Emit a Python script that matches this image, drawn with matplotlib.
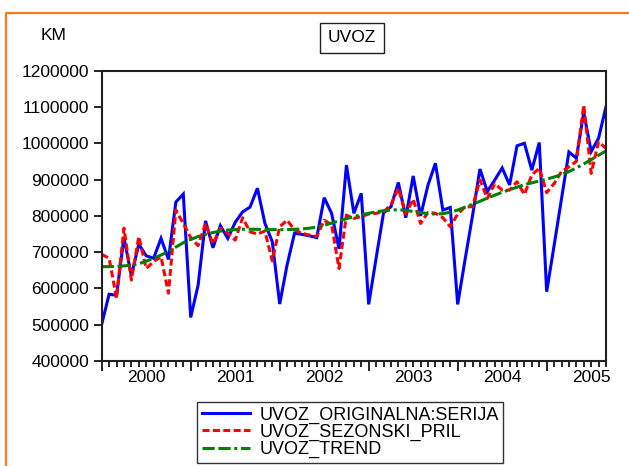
import numpy as np
import matplotlib
matplotlib.use('Agg')
import matplotlib.pyplot as plt
from matplotlib.lines import Line2D

plt.rcParams['font.family'] = ['Liberation Sans', 'DejaVu Sans']

# monthly data, Jan 2000 .. Sep 2005
uvoz_orig = [
    501000, 584000, 581000, 740000, 635000, 722000, 690000, 683000, 738000, 680000, 838000, 860000,
    520000, 609000, 786000, 712000, 773000, 738000, 782000, 811000, 824000, 876000, 780000, 729000,
    557000, 665000, 752000, 749000, 745000, 740000, 850000, 807000, 709000, 940000, 807000, 862000,
    556000, 683000, 808000, 825000, 892000, 795000, 910000, 800000, 885000, 945000, 816000, 823000,
    556000, 680000, 800000, 929000, 867000, 899000, 932000, 885000, 993000, 1000000, 926000, 1002000,
    591000, 718000, 847000, 976000, 959000, 1085000, 977000, 1014000, 1101000,
]
uvoz_sa = [
    694000, 683000, 573000, 766000, 623000, 743000, 655000, 674000, 687000, 587000, 816000, 779000,
    740000, 718000, 779000, 723000, 766000, 752000, 733000, 795000, 756000, 750000, 758000, 676000,
    770000, 788000, 761000, 752000, 747000, 743000, 788000, 775000, 655000, 802000, 793000, 798000,
    805000, 807000, 811000, 830000, 876000, 805000, 846000, 779000, 810000, 807000, 795000, 770000,
    805000, 825000, 825000, 899000, 848000, 889000, 871000, 871000, 894000, 859000, 913000, 931000,
    864000, 889000, 922000, 935000, 950000, 1105000, 917000, 1004000, 986000,
]
uvoz_trend = [
    660000, 660000, 661000, 662000, 664000, 668000, 675000, 683000, 692000, 702000, 714000, 726000,
    735000, 743000, 749000, 754000, 758000, 761000, 762000, 763000, 763000, 763000, 762000, 762000,
    762000, 762000, 763000, 764000, 766000, 769000, 774000, 780000, 786000, 792000, 798000, 803000,
    807000, 811000, 814000, 816000, 817000, 815000, 812000, 809000, 806000, 805000, 806000, 810000,
    816000, 824000, 832000, 840000, 849000, 857000, 865000, 872000, 879000, 886000, 891000, 896000,
    901000, 907000, 914000, 922000, 932000, 943000, 955000, 967000, 979000,
]
years = ['2000', '2001', '2002', '2003', '2004', '2005']
series_names = ['UVOZ_ORIGINALNA:SERIJA', 'UVOZ_SEZONSKI_PRIL', 'UVOZ_TREND']

months = np.arange(len(uvoz_orig))
fs = 12.5

fig = plt.figure(figsize=(6.29, 4.66), dpi=100)
ax = fig.add_axes([101.7 / 629, 1 - 361 / 466, (606 - 101.7) / 629, (361 - 70.7) / 466])

l1, = ax.plot(months, uvoz_orig, color='#0000ff', lw=2.2, solid_joinstyle='miter')
l2, = ax.plot(months, uvoz_sa, color='#ff0000', lw=2.2, linestyle=(0, (2.3, 1.1)))
l3, = ax.plot(months, uvoz_trend, color='#008000', lw=2.2, linestyle=(0, (4, 1.2, 4, 1.2, 1, 1.2)))

ax.set_xlim(0, len(months) - 1)
ax.set_ylim(400000, 1200000)
ax.set_yticks(np.arange(400000, 1200001, 100000))
ax.set_yticklabels([str(v) for v in range(400000, 1200001, 100000)], fontsize=fs)

# year ticks at January, labels in mid year
ax.set_xticks(np.arange(0, len(months), 12))
ax.set_xticklabels([])
ax.set_xticks(months, minor=True)
for i, y in enumerate(years):
    ax.text(12 * i + 6, -0.03, y, transform=ax.get_xaxis_transform(),
            ha='center', va='top', fontsize=fs)

ax.tick_params(axis='y', direction='out', length=6, width=1.2, left=True, right=False, pad=3)
ax.tick_params(axis='x', which='major', direction='out', length=7, width=1.2)
ax.tick_params(axis='x', which='minor', direction='out', length=4, width=1.2)
for s in ax.spines.values():
    s.set_linewidth(1.5)
    s.set_color('#202020')

fig.text(54 / 629, 1 - 36 / 466, 'KM', ha='center', va='center', fontsize=fs)
fig.text(352 / 629, 1 - 38 / 466, 'UVOZ', ha='center', va='center', fontsize=fs,
         bbox=dict(boxstyle='square,pad=0.45', fc='white', ec='#202020', lw=1))

leg = fig.legend([l1, l2, l3], series_names, loc='upper left',
                 bbox_to_anchor=(197 / 629, 1 - 402 / 466), borderaxespad=0,
                 fontsize=13, frameon=True, fancybox=False, edgecolor='black',
                 handlelength=2.7, handletextpad=0.5, labelspacing=0.0,
                 borderpad=0.25)
leg.get_frame().set_linewidth(1.0)

# orange outer border (left and top)
fig.add_artist(Line2D([5.5 / 629, 5.5 / 629, 1.01], [-0.01, 1 - 12.5 / 466, 1 - 12.5 / 466],
                      transform=fig.transFigure, color='#ff7a1a', lw=1.6))

fig.savefig('out.png', dpi=100)
